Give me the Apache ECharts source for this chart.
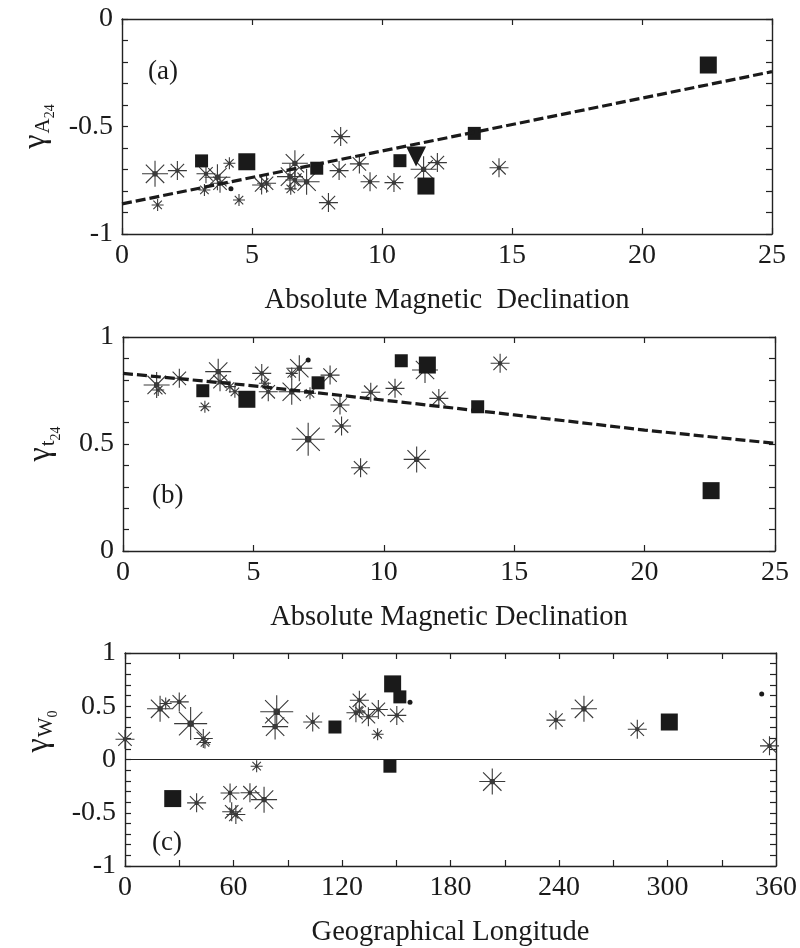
<!DOCTYPE html>
<html>
<head>
<meta charset="utf-8">
<script src="https://cdn.jsdelivr.net/npm/echarts@6/dist/echarts.min.js"></script>
<style>
  html, body { margin: 0; background: #fff; }
  #chart { width: 800px; height: 948px; }
</style>
</head>
<body>
<div id="chart"></div>
<script>
"use strict";

// panel (a): gamma_A24 vs absolute magnetic declination
var aStarS = [[1.37,-0.865],[3.17,-0.795],[4.13,-0.671],[4.5,-0.842],[6.49,-0.79]];
var aStarM = [[2.13,-0.705],[3.23,-0.72],[3.77,-0.764],[5.37,-0.772],[5.56,-0.764],[6.65,-0.749],[7.94,-0.854],
              [8.41,-0.547],[8.35,-0.705],[9.13,-0.674],[9.54,-0.757],[10.46,-0.761],[12.13,-0.668],[14.5,-0.692]];
var aStarL = [[1.27,-0.72],[3.67,-0.736],[6.65,-0.671],[6.46,-0.733],[7.1,-0.757],[11.6,-0.699]];
var aSqS = [[3.06,-0.66],[7.49,-0.694],[10.69,-0.659],[13.55,-0.532]];
var aSqL = [[4.8,-0.664],[11.69,-0.777],[22.55,-0.214]];
var aTri = [[11.31,-0.64]];
var aDot = [[4.19,-0.79]];
var aFit = [[0,-0.86],[25,-0.245]];

// panel (b): gamma_t24 vs absolute magnetic declination
var bStarS = [[1.35,0.752],[3.14,0.674],[4.1,0.768],[4.29,0.744],[5.44,0.784],[6.47,0.83],[7.17,0.737]];
var bStarM = [[2.16,0.807],[3.72,0.791],[5.32,0.83],[5.57,0.744],[7.94,0.822],[8.32,0.682],[8.38,0.584],
              [9.11,0.389],[9.5,0.742],[10.43,0.76],[12.11,0.713],[14.46,0.877]];
var bStarL = [[1.29,0.776],[3.65,0.838],[6.47,0.744],[6.76,0.854],[11.58,0.846],[11.26,0.428]];
var bStarXL = [[7.1,0.522]];
var bSqS = [[3.06,0.749],[7.48,0.786],[10.67,0.889],[13.6,0.674]];
var bSqL = [[4.75,0.709],[11.67,0.869],[22.55,0.282]];
var bDot = [[7.1,0.892]];
var bFit = [[0,0.83],[5,0.772],[10,0.705],[15,0.636],[20,0.565],[25,0.503]];

// panel (c): gamma_W0 vs geographical longitude
var cStarS = [[22.5,0.526],[44.2,0.16],[72.8,-0.063],[129.6,0.454],[139.7,0.237]];
var cStarM = [[0,0.19],[30,0.541],[43.3,0.197],[39.6,-0.407],[58.1,-0.314],[69.1,-0.312],[59,-0.491],[61.3,-0.516],
              [103.8,0.352],[129.6,0.556],[127.7,0.439],[134.6,0.402],[140.1,0.47],[150.3,0.414],
              [238.3,0.37],[283.3,0.284],[356.4,0.128]];
var cStarL = [[19.4,0.476],[76.9,-0.377],[83,0.309],[203.1,-0.207],[253.8,0.476]];
var cStarXL = [[36.3,0.337],[83.9,0.448]];
var cSqS = [[116.1,0.305],[152,0.588],[146.5,-0.063]];
var cSqL = [[26.4,-0.367],[148,0.71],[301,0.352]];
var cDot = [[157.6,0.538],[352.1,0.616]];

var xTitles = ['Absolute Magnetic  Declination', 'Absolute Magnetic Declination', 'Geographical Longitude'];
var yTitles = ['{g|γ}{a|A}{n|24}', '{g|γ}{a|t}{n|24}', '{g|γ}{a|W}{n|0}'];
var panelTags = ['(a)', '(b)', '(c)'];

var FONT = '"Liberation Serif", "Times New Roman", serif';
var INK = '#1a1a1a';
var STAR = 'path://M0,-10L0,10M-10,0L10,0M-7.07,-7.07L7.07,7.07M-7.07,7.07L7.07,-7.07' +
           'M-1.6,-1.6L1.6,-1.6L1.6,1.6L-1.6,1.6Z';

var chart = echarts.init(document.getElementById('chart'), null, {renderer: 'canvas'});

function near(v, step) {
	return Math.abs(v / step - Math.round(v / step)) < 1e-6;
}

function scatter(gi, data, symbol, size, stroke) {
	return {
		type: 'scatter', xAxisIndex: gi * 2, yAxisIndex: gi * 2,
		data: data, symbol: symbol, symbolSize: size, silent: true,
		itemStyle: stroke ? {color: INK, borderColor: '#3a3a3a', borderWidth: 1.1, opacity: 1}
		                  : {color: INK, opacity: 1}
	};
}

function stars(gi, s, m, l, xl) {
	var out = [scatter(gi, s, STAR, 12, true), scatter(gi, m, STAR, 19, true), scatter(gi, l, STAR, 26, true)];
	if (xl) out.push(scatter(gi, xl, STAR, 33, true));
	return out;
}

function fitLine(gi, data) {
	return {
		type: 'line', xAxisIndex: gi * 2, yAxisIndex: gi * 2, data: data,
		symbol: 'none', silent: true, z: 5,
		lineStyle: {color: INK, width: 3.2, type: [10, 4]}
	};
}

var grids = [
	{left: 122, top: 19, width: 650, height: 215},
	{left: 123, top: 337, width: 652, height: 214},
	{left: 125, top: 653, width: 651, height: 215}
];
var xRange = [[0, 25, 5, 5], [0, 25, 5, 5], [0, 360, 30, 60]];
var yRange = [[-1, 0], [0, 1], [-1, 1]];
// extra room on one side of each rotated y title, to move it along the axis
var yTitlePad = [[0, 0, 0, 0], [0, 0, 0, 0], [0, 0, 0, 56]];

var axisLine = {onZero: false, lineStyle: {color: '#222', width: 1.4}};
var tick = {inside: true, length: 6, lineStyle: {color: '#222', width: 1.2}};

var xAxes = [], yAxes = [];
grids.forEach(function (g, i) {
	var xr = xRange[i], yr = yRange[i];
	xAxes.push({
		gridIndex: i, type: 'value', min: xr[0], max: xr[1], interval: xr[2], position: 'bottom',
		name: xTitles[i], nameLocation: 'middle', nameGap: 52,
		nameTextStyle: {fontFamily: FONT, fontSize: 28.5, color: INK},
		axisLine: axisLine, axisTick: tick, splitLine: {show: false},
		axisLabel: {
			fontFamily: FONT, fontSize: 28, color: INK, margin: 8, showMinLabel: true, showMaxLabel: true,
			formatter: function (v) { return near(v, xr[3]) ? String(v) : ''; }
		}
	});
	xAxes.push({
		gridIndex: i, type: 'value', min: xr[0], max: xr[1], interval: xr[2], position: 'top',
		axisLine: axisLine, axisTick: tick, axisLabel: {show: false}, splitLine: {show: false}
	});
	yAxes.push({
		gridIndex: i, type: 'value', min: yr[0], max: yr[1], interval: 0.1, position: 'left',
		name: yTitles[i], nameLocation: 'middle', nameRotate: 90, nameGap: 68,
		nameTextStyle: {
			fontFamily: FONT, color: INK, padding: yTitlePad[i],
			rich: {
				g: {fontFamily: FONT, fontSize: 32, lineHeight: 30, verticalAlign: 'top', color: INK},
				a: {fontFamily: FONT, fontSize: 21, lineHeight: 20, verticalAlign: 'top', padding: [13, 0, 0, 1], color: INK},
				n: {fontFamily: FONT, fontSize: 14, lineHeight: 14, verticalAlign: 'top', padding: [24, 0, 0, 0], color: INK}
			}
		},
		axisLine: axisLine, axisTick: tick, splitLine: {show: false},
		axisLabel: {
			fontFamily: FONT, fontSize: 28, color: INK, margin: 9, showMinLabel: true, showMaxLabel: true,
			formatter: function (v) { return near(v, 0.5) ? String(+v.toFixed(1)) : ''; }
		}
	});
	yAxes.push({
		gridIndex: i, type: 'value', min: yr[0], max: yr[1], interval: 0.1, position: 'right',
		axisLine: axisLine, axisTick: tick, axisLabel: {show: false}, splitLine: {show: false}
	});
});

var series = [].concat(
	stars(0, aStarS, aStarM, aStarL),
	[scatter(0, aSqS, 'rect', 13), scatter(0, aSqL, 'rect', 17),
	 Object.assign(scatter(0, aTri, 'triangle', 20), {symbolRotate: 180}),
	 scatter(0, aDot, 'circle', 5), fitLine(0, aFit)],

	stars(1, bStarS, bStarM, bStarL, bStarXL),
	[scatter(1, bSqS, 'rect', 13), scatter(1, bSqL, 'rect', 17),
	 scatter(1, bDot, 'circle', 5), fitLine(1, bFit)],

	stars(2, cStarS, cStarM, cStarL, cStarXL),
	[scatter(2, cSqS, 'rect', 13), scatter(2, cSqL, 'rect', 17),
	 Object.assign(scatter(2, cDot, 'circle', 5), {
		markLine: {
			silent: true, symbol: 'none', label: {show: false},
			lineStyle: {color: '#222', type: 'solid', width: 1.2},
			data: [{yAxis: 0}]
		}
	 })]
);

var tagPos = [[148, 58], [152, 482], [152, 829]];
var graphic = panelTags.map(function (t, i) {
	return {
		type: 'text', left: tagPos[i][0], top: tagPos[i][1], silent: true,
		style: {text: t, fontFamily: FONT, fontSize: 27, fill: INK}
	};
});

chart.setOption({
	animation: false,
	backgroundColor: '#fff',
	grid: grids,
	xAxis: xAxes,
	yAxis: yAxes,
	series: series,
	graphic: graphic
});
</script>
</body>
</html>
